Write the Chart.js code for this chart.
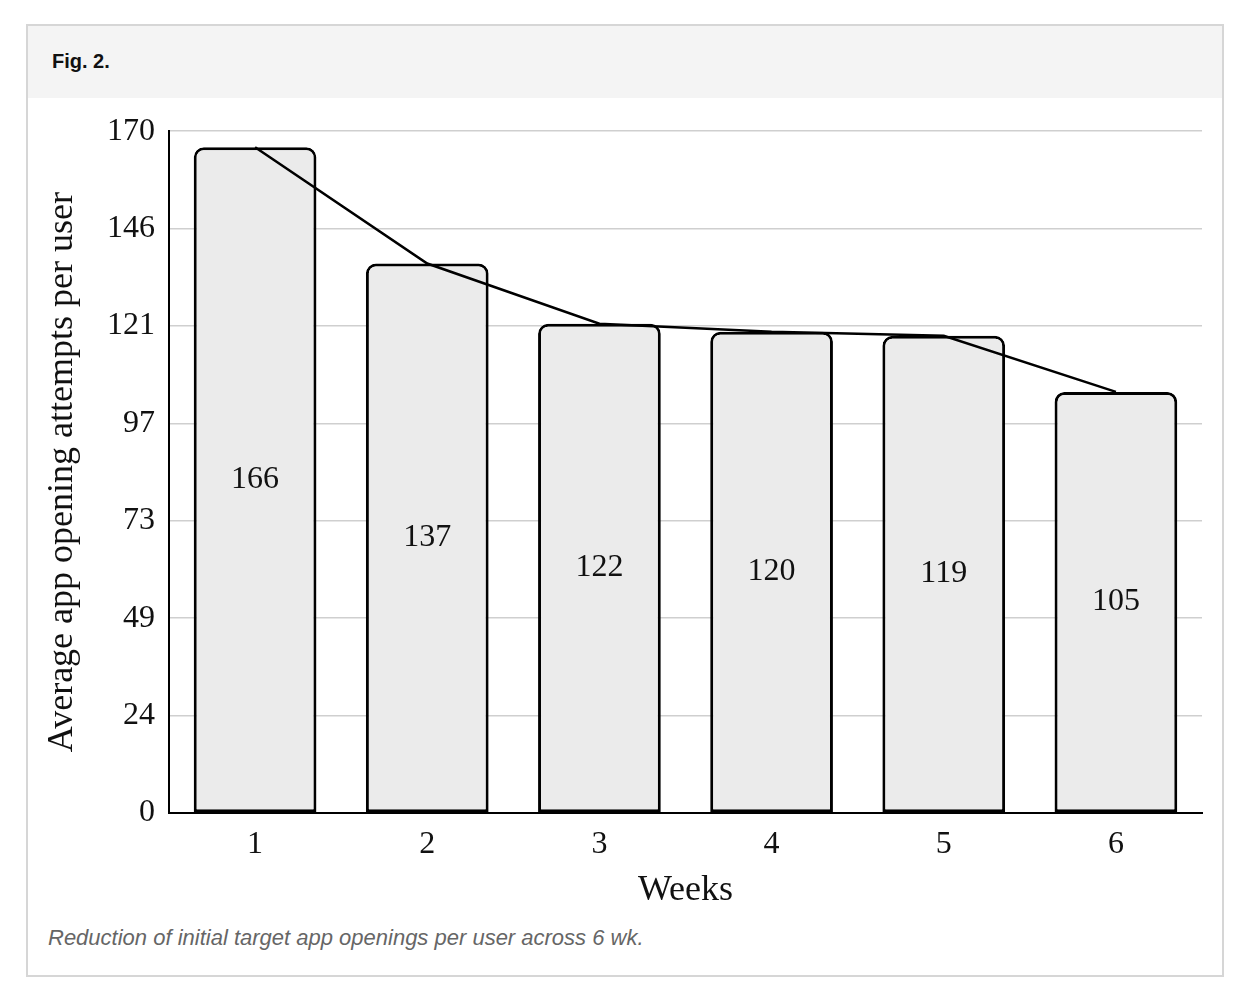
<!DOCTYPE html>
<html>
<head>
<meta charset="utf-8">
<script src="https://cdn.jsdelivr.net/npm/chart.js@4"></script>
<style>
  body { margin: 0; background: #fff; }
  .figure {
    position: absolute; left: 26px; top: 24px; width: 1194px; height: 949px;
    border: 2px solid #d6d6d6; background: #fff;
  }
  .head {
    height: 72px; background: #f4f4f4;
    font: bold 20px "Liberation Sans", Arial, sans-serif; color: #111;
    line-height: 70px; padding-left: 24px;
  }
  .plot { position: absolute; left: 0; top: 72px; width: 1194px; height: 814px; }
  .caption {
    position: absolute; left: 20px; top: 899px;
    font: italic 22px "Liberation Sans", Arial, sans-serif; color: #666;
  }
</style>
</head>
<body>
<div class="figure">
  <div class="head">Fig. 2.</div>
  <div class="plot"><canvas id="chart"></canvas></div>
  <div class="caption">Reduction of initial target app openings per user across 6 wk.</div>
</div>
<script>
const weeks = ['1', '2', '3', '4', '5', '6'];
const openings = [166, 137, 122, 120, 119, 105];
const yTickLabels = [0, 24, 49, 73, 97, 121, 146, 170];
const yMax = 170;

const serif = '"Liberation Serif", "Times New Roman", serif';

// numbers in the middle of each bar
const barLabels = {
  id: 'barLabels',
  afterDatasetsDraw(chart) {
    const meta = chart.getDatasetMeta(1);
    const c = chart.ctx;
    c.save();
    c.font = '32px ' + serif;
    c.fillStyle = '#111';
    c.textAlign = 'center';
    c.textBaseline = 'middle';
    meta.data.forEach((bar, i) => {
      c.fillText(openings[i], bar.x, (bar.y + bar.base) / 2);
    });
    c.restore();
  }
};

const ctx = document.getElementById('chart').getContext('2d');
new Chart(ctx, {
  data: {
    labels: weeks,
    datasets: [
      {
        type: 'line',
        data: openings,
        borderColor: '#000',
        borderWidth: 2.5,
        pointRadius: 0,
        tension: 0,
        order: 0
      },
      {
        type: 'bar',
        data: openings,
        backgroundColor: '#ebebeb',
        borderColor: '#000',
        borderWidth: 3,
        borderSkipped: false,
        borderRadius: { topLeft: 10, topRight: 10, bottomLeft: 0, bottomRight: 0 },
        categoryPercentage: 0.72,
        barPercentage: 0.99,
        order: 1
      }
    ]
  },
  options: {
    responsive: true,
    maintainAspectRatio: false,
    animation: false,
    layout: { padding: { top: 27, right: 20, bottom: 0, left: 0 } },
    plugins: {
      legend: { display: false },
      tooltip: { enabled: false }
    },
    scales: {
      x: {
        grid: { display: false },
        border: { color: '#000', width: 2 },
        ticks: { color: '#111', padding: 4, font: { family: serif, size: 32 } },
        title: {
          display: true, text: 'Weeks', color: '#111',
          font: { family: serif, size: 36 }, padding: { top: 0, bottom: 0 }
        },
        afterFit(scale) { scale.height = 99; }
      },
      y: {
        min: 0,
        max: yMax,
        afterBuildTicks(scale) {
          scale.ticks = yTickLabels.map((t, i) => ({ value: i * yMax / (yTickLabels.length - 1) }));
        },
        grid: { color: '#cfcfcf', lineWidth: 1.5, drawTicks: false },
        border: { color: '#000', width: 2 },
        ticks: {
          color: '#111', padding: 14,
          font: { family: serif, size: 32 },
          callback: (v, i) => yTickLabels[i]
        },
        title: {
          display: true, text: 'Average app opening attempts per user', color: '#111',
          font: { family: serif, size: 36 }, padding: { top: 13, bottom: 0 }
        },
        afterFit(scale) { scale.width = 141; }
      }
    }
  },
  plugins: [barLabels]
});
</script>
</body>
</html>
